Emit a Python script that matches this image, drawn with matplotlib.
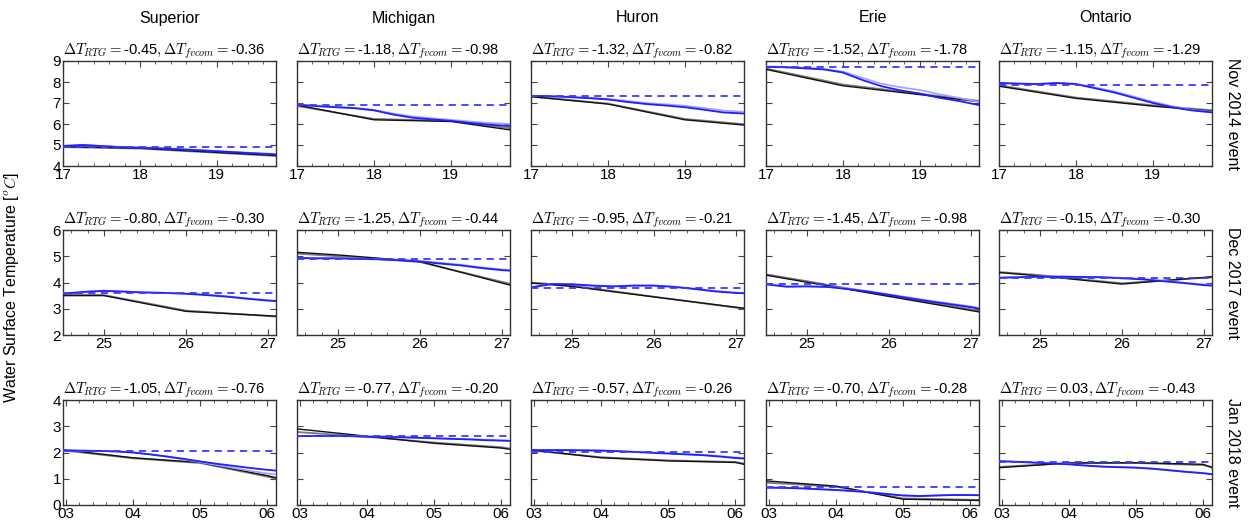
import matplotlib
matplotlib.use("Agg")
import matplotlib.pyplot as plt
from matplotlib.ticker import AutoMinorLocator, FixedLocator

plt.rcParams['font.family'] = ['Liberation Sans', 'DejaVu Sans']
plt.rcParams['mathtext.fontset'] = 'cm'

lakes = ['Superior', 'Michigan', 'Huron', 'Erie', 'Ontario']
events = ['Nov 2014 event', 'Dec 2017 event', 'Jan 2018 event']

# ---- titles (delta values) ----
d_rtg = [[-0.45, -1.18, -1.32, -1.52, -1.15],
         [-0.80, -1.25, -0.95, -1.45, -0.15],
         [-1.05, -0.77, -0.57, -0.70, 0.03]]
d_fvcom = [[-0.36, -0.98, -0.82, -1.78, -1.29],
           [-0.30, -0.44, -0.21, -0.98, -0.30],
           [-0.76, -0.20, -0.26, -0.28, -0.43]]

# ---- axes ranges / ticks per event ----
xlims = [(17.0, 19.77), (24.5, 27.1), (2.96, 6.13)]
xticks = [[17, 18, 19], [25, 26, 27], [3, 4, 5, 6]]
xticklabels = [['17', '18', '19'], ['25', '26', '27'], ['03', '04', '05', '06']]
ylims = [(4, 9), (2, 6), (0, 4)]
yticks = [[4, 5, 6, 7, 8, 9], [2, 3, 4, 5, 6], [0, 1, 2, 3, 4]]

# ---- Nov 2014 ----
nov_obs_x = [17.0, 18.0, 19.0, 19.77]
nov_black = [[4.92, 4.85, 4.65, 4.50],
             [6.90, 6.20, 6.12, 5.72],
             [7.30, 6.95, 6.20, 5.95],
             [8.60, 7.82, 7.40, 7.06],
             [7.80, 7.22, 6.85, 6.62]]
nov_gray = [[4.90, 4.83, 4.63, 4.48],
            [6.86, 6.24, 6.15, 5.80],
            [7.32, 6.97, 6.24, 5.99],
            [8.64, 7.88, 7.44, 7.10],
            [7.84, 7.26, 6.89, 6.65]]
nov_mod_x = [17.0, 17.25, 17.5, 17.75, 18.0, 18.25, 18.5, 18.75, 19.0, 19.25, 19.5, 19.77]
nov_blue = [[4.95, 5.00, 4.95, 4.90, 4.87, 4.84, 4.80, 4.75, 4.70, 4.65, 4.60, 4.55],
            [6.92, 6.85, 6.80, 6.75, 6.65, 6.45, 6.30, 6.22, 6.15, 6.05, 5.97, 5.90],
            [7.34, 7.32, 7.28, 7.23, 7.17, 7.05, 6.95, 6.88, 6.80, 6.68, 6.55, 6.50],
            [8.72, 8.70, 8.65, 8.60, 8.45, 8.10, 7.80, 7.60, 7.45, 7.25, 7.10, 6.90],
            [7.95, 7.92, 7.90, 7.95, 7.90, 7.70, 7.50, 7.25, 7.00, 6.80, 6.65, 6.55]]
nov_light = [[4.96, 5.01, 4.96, 4.91, 4.88, 4.85, 4.81, 4.77, 4.72, 4.67, 4.62, 4.57],
             [6.93, 6.87, 6.82, 6.77, 6.68, 6.50, 6.36, 6.28, 6.20, 6.12, 6.05, 6.00],
             [7.35, 7.33, 7.30, 7.25, 7.20, 7.10, 7.00, 6.94, 6.87, 6.76, 6.64, 6.58],
             [8.75, 8.72, 8.68, 8.62, 8.50, 8.20, 7.92, 7.75, 7.62, 7.42, 7.25, 7.05],
             [7.96, 7.93, 7.91, 7.96, 7.92, 7.74, 7.55, 7.31, 7.06, 6.85, 6.68, 6.58]]
nov_dash = [4.90, 6.90, 7.35, 8.72, 7.86]

# ---- Dec 2017 ----
dec_obs_x = [24.5, 25.0, 26.0, 27.1]
dec_black = [[3.50, 3.50, 2.90, 2.72],
             [5.15, 5.05, 4.80, 3.90],
             [3.98, 3.85, 3.45, 3.02],
             [4.28, 4.01, 3.47, 2.88],
             [4.38, 4.25, 3.94, 4.22]]
dec_gray = [[3.55, 3.52, 2.93, 2.70],
            [5.10, 5.00, 4.78, 3.95],
            [4.00, 3.88, 3.46, 3.00],
            [4.31, 4.05, 3.50, 2.93],
            [4.40, 4.28, 3.97, 4.20]]
dec_mod_x = [24.5, 24.75, 25.0, 25.25, 25.5, 25.75, 26.0, 26.25, 26.5, 26.75, 27.0, 27.1]
dec_blue = [[3.57, 3.64, 3.68, 3.65, 3.62, 3.60, 3.57, 3.52, 3.46, 3.38, 3.31, 3.29],
            [4.93, 4.92, 4.92, 4.90, 4.88, 4.85, 4.80, 4.72, 4.65, 4.55, 4.47, 4.45],
            [3.81, 3.94, 3.93, 3.88, 3.85, 3.88, 3.88, 3.83, 3.75, 3.66, 3.60, 3.59],
            [3.93, 3.84, 3.85, 3.83, 3.75, 3.65, 3.53, 3.40, 3.28, 3.17, 3.06, 3.00],
            [4.18, 4.20, 4.22, 4.22, 4.21, 4.20, 4.16, 4.12, 4.05, 3.98, 3.90, 3.88]]
dec_light = [[3.58, 3.65, 3.69, 3.66, 3.63, 3.61, 3.58, 3.54, 3.48, 3.40, 3.33, 3.31],
             [4.94, 4.93, 4.93, 4.91, 4.89, 4.86, 4.82, 4.75, 4.68, 4.58, 4.50, 4.48],
             [3.82, 3.95, 3.94, 3.89, 3.86, 3.89, 3.89, 3.84, 3.77, 3.68, 3.62, 3.61],
             [3.94, 3.85, 3.86, 3.84, 3.77, 3.67, 3.55, 3.43, 3.31, 3.20, 3.09, 3.03],
             [4.19, 4.21, 4.23, 4.23, 4.22, 4.21, 4.18, 4.14, 4.07, 4.00, 3.93, 3.91]]
dec_dash = [3.59, 4.90, 3.79, 3.96, 4.18]

# ---- Jan 2018 ----
jan_obs_x = [2.96, 4.0, 5.0, 6.0, 6.13]
jan_black = [[2.11, 1.80, 1.62, 1.12, 1.04],
             [2.90, 2.62, 2.35, 2.17, 2.12],
             [2.10, 1.80, 1.68, 1.62, 1.55],
             [0.92, 0.72, 0.22, 0.18, 0.17],
             [1.42, 1.60, 1.61, 1.55, 1.42]]
jan_gray = [[2.08, 1.78, 1.60, 1.08, 1.00],
            [2.78, 2.60, 2.38, 2.20, 2.15],
            [2.08, 1.82, 1.70, 1.64, 1.58],
            [0.85, 0.70, 0.25, 0.20, 0.20],
            [1.45, 1.60, 1.60, 1.52, 1.45]]
jan_mod_x = [2.96, 3.25, 3.5, 3.75, 4.0, 4.25, 4.5, 4.75, 5.0, 5.25, 5.5, 5.75, 6.0, 6.13]
jan_blue = [[2.08, 2.07, 2.06, 2.04, 2.00, 1.93, 1.85, 1.76, 1.66, 1.57, 1.49, 1.41, 1.34, 1.31],
            [2.62, 2.63, 2.63, 2.62, 2.60, 2.60, 2.58, 2.56, 2.54, 2.52, 2.50, 2.47, 2.45, 2.44],
            [2.09, 2.09, 2.09, 2.08, 2.07, 2.05, 2.02, 1.99, 1.96, 1.93, 1.90, 1.85, 1.79, 1.77],
            [0.66, 0.65, 0.63, 0.60, 0.57, 0.53, 0.48, 0.42, 0.36, 0.34, 0.36, 0.38, 0.38, 0.37],
            [1.67, 1.64, 1.61, 1.58, 1.55, 1.50, 1.46, 1.44, 1.42, 1.38, 1.32, 1.26, 1.21, 1.17]]
jan_light = [[2.08, 2.07, 2.06, 2.04, 2.00, 1.93, 1.84, 1.74, 1.63, 1.52, 1.41, 1.30, 1.20, 1.16],
             [2.63, 2.64, 2.64, 2.63, 2.61, 2.61, 2.59, 2.57, 2.55, 2.53, 2.51, 2.49, 2.47, 2.46],
             [2.10, 2.10, 2.10, 2.09, 2.08, 2.06, 2.03, 2.00, 1.97, 1.94, 1.91, 1.87, 1.81, 1.79],
             [0.67, 0.66, 0.64, 0.61, 0.58, 0.54, 0.49, 0.43, 0.37, 0.35, 0.37, 0.39, 0.39, 0.38],
             [1.68, 1.65, 1.62, 1.59, 1.56, 1.51, 1.47, 1.45, 1.43, 1.39, 1.33, 1.27, 1.22, 1.18]]
jan_dash = [2.07, 2.63, 2.03, 0.67, 1.63]

obs_x = [nov_obs_x, dec_obs_x, jan_obs_x]
blacks = [nov_black, dec_black, jan_black]
grays = [nov_gray, dec_gray, jan_gray]
mod_x = [nov_mod_x, dec_mod_x, jan_mod_x]
blues = [nov_blue, dec_blue, jan_blue]
lights = [nov_light, dec_light, jan_light]
dashes = [nov_dash, dec_dash, jan_dash]

W, H = 1248, 520
fig = plt.figure(figsize=(W / 100, H / 100), dpi=100)

col_left = [63, 297, 531, 766, 999]
row_top = [61, 230, 400]
aw, ah = 213, 105.0

for r in range(3):
    for c in range(5):
        ax = fig.add_axes([col_left[c] / W, 1 - (row_top[r] + ah) / H, aw / W, ah / H])
        ax.plot(obs_x[r], grays[r][c], color='#7a7a7a', lw=1.3, zorder=2)
        ax.plot(obs_x[r], blacks[r][c], color='#111111', lw=1.0, zorder=3)
        ax.plot(mod_x[r], lights[r][c], color='#a0a0ff', lw=1.2, zorder=4)
        ax.plot(mod_x[r], blues[r][c], color='#1e1eff', lw=1.3, zorder=5)
        ax.axhline(dashes[r][c], color='#3a3aff', lw=1.3, ls=(0, (4, 3)), zorder=6)
        ax.set_xlim(*xlims[r])
        ax.set_ylim(*ylims[r])
        ax.xaxis.set_major_locator(FixedLocator(xticks[r]))
        ax.set_xticklabels(xticklabels[r])
        ax.xaxis.set_minor_locator(AutoMinorLocator(5))
        ax.set_yticks(yticks[r])
        if c != 0:
            ax.set_yticklabels([])
        ax.tick_params(which='both', direction='in', top=True, right=True,
                       labelsize=11, pad=1.5, color='#444444')
        ax.tick_params(which='major', length=4, width=0.8)
        ax.tick_params(which='minor', length=2, width=0.6)
        for s in ax.spines.values():
            s.set_color('#333333')
            s.set_linewidth(1.0)
        ax.set_title(r'$\Delta T_{RTG}=$' + f'{d_rtg[r][c]:.2f}' +
                     r'$, \Delta T_{fvcom}=$' + f'{d_fvcom[r][c]:.2f}',
                     loc='left', fontsize=10.6, pad=1.5)
        if r == 0:
            fig.text((col_left[c] + aw / 2) / W, 1 - 18 / H, lakes[c],
                     ha='center', va='center', fontsize=11.5)
        if c == 4:
            fig.text(1232 / W, 1 - (row_top[r] + ah / 2) / H, events[r],
                     rotation=270, ha='center', va='center', fontsize=11.5)

fig.text(12 / W, 1 - 287 / H, r'Water Surface Temperature [$^{o}C$]',
         rotation=90, ha='center', va='center', fontsize=11.5)

fig.savefig('out.png', dpi=100)
